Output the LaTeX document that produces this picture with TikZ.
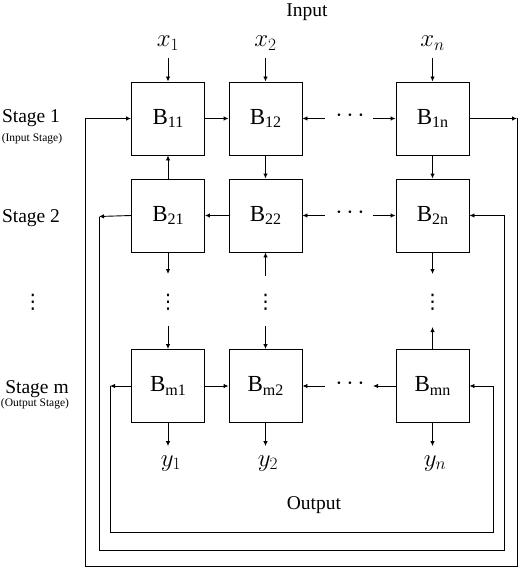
\documentclass[tikz,border=0pt]{standalone}
\usepackage{fontspec}
\setmainfont{Liberation Serif}
\newfontfamily\dvs{DejaVu Sans}
\usetikzlibrary{arrows.meta}
\newcommand{\Bsub}[1]{B\raisebox{-3.5pt}{\fontsize{16}{16}\selectfont #1}}
\begin{document}
\begin{tikzpicture}[x=1pt,y=-1pt,
  box/.style={draw,line width=0.9pt,minimum width=73pt,minimum height=73pt,inner sep=0pt,font=\fontsize{23}{26}\selectfont},
  conn/.style={line width=0.9pt},
  arr/.style={conn,-{Latex[length=5pt,width=4.5pt]}},
  lbl/.style={font=\fontsize{19.5}{22}\selectfont,inner sep=0pt,anchor=base},
  small/.style={font=\fontsize{11.5}{13}\selectfont,inner sep=0pt,anchor=base},
  xlab/.style={font=\fontsize{24}{26}\selectfont,inner xsep=0pt,inner ysep=7pt,anchor=base},
  ylab/.style={font=\fontsize{24}{26}\selectfont,inner xsep=0pt,inner ysep=9pt,anchor=base},
  hdots/.style={font=\fontsize{22}{24}\selectfont,inner sep=0pt},
  vdots/.style={font=\dvs\fontsize{20}{22}\selectfont,inner sep=0pt}]
\useasboundingbox (0,0) rectangle (521,567);

% labels
\node[lbl] (input) at (307,17) {Input};
\node[lbl] (output) at (314,509) {Output};
\node[lbl] (s1) at (31,122) {Stage 1};
\node[small] (s1b) at (32,141) {(Input Stage)};
\node[lbl] (s2) at (31,222) {Stage 2};
\node[vdots] (vdl) at (33,302) {⋮};
\node[lbl] (sm) at (37,393) {Stage m};
\node[small] (smb) at (35,406) {(Output Stage)};

% boxes
\node[box] (B11) at (168,118.5) {\Bsub{11}};
\node[box] (B12) at (265.5,118.5) {\Bsub{12}};
\node[box] (B1n) at (432.5,118.5) {\Bsub{1n}};
\node[box] (B21) at (168,215.5) {\Bsub{21}};
\node[box] (B22) at (265.5,215.5) {\Bsub{22}};
\node[box] (B2n) at (432.5,215.5) {\Bsub{2n}};
\node[box] (Bm1) at (168,386) {\Bsub{m1}};
\node[box] (Bm2) at (265.5,386) {\Bsub{m2}};
\node[box] (Bmn) at (432.5,386) {\Bsub{mn}};

% inputs / outputs
\node[xlab] (x1) at (168,47) {$x_1$};
\node[xlab] (x2) at (265.5,47) {$x_2$};
\node[xlab] (xn) at (432.5,47) {$x_n$};
\node[ylab] (y1) at (171,466) {$y_1$};
\node[ylab] (y2) at (268,466) {$y_2$};
\node[ylab] (yn) at (435,466) {$y_n$};
\draw[arr] (x1.south -| B11.north) -- (B11);
\draw[arr] (x2.south -| B12.north) -- (B12);
\draw[arr] (xn.south -| B1n.north) -- (B1n);
\draw[arr] (Bm1.south) -- (Bm1.south |- y1.north);
\draw[arr] (Bm2.south) -- (Bm2.south |- y2.north);
\draw[arr] (Bmn.south) -- (Bmn.south |- yn.north);

% horizontal dots
\node[hdots] (h1) at (350,118.5) {·\,·\,·};
\node[hdots] (h2) at (350,215.5) {·\,·\,·};
\node[hdots] (hm) at (350,386) {·\,·\,·};
\coordinate (h1l) at (325,118.5); \coordinate (h1r) at (373,118.5);
\coordinate (h2l) at (325,215.5); \coordinate (h2r) at (373,215.5);
\coordinate (hml) at (325,386);   \coordinate (hmr) at (373,386);

% row 1
\draw[arr] (B11) -- (B12);
\draw[arr] (h1l) -- (B12);
\draw[arr] (h1r) -- (B1n);
% row 2
\draw[arr] (B22) -- (B21);
\draw[arr] (h2l) -- (B22);
\draw[arr] (h2r) -- (B2n);
% row m
\draw[arr] (Bm1) -- (Bm2);
\draw[arr] (hml) -- (Bm2);
\draw[arr] (Bmn.west) -- (hmr);

% vertical between row 1 and 2
\draw[arr] (B21) -- (B11);
\draw[arr] (B12) -- (B22);
\draw[arr] (B1n) -- (B2n);

% vertical dots columns
\node[vdots] (v1) at (168,302) {⋮};
\node[vdots] (v2) at (265.5,302) {⋮};
\node[vdots] (vn) at (432.5,302) {⋮};
\coordinate (v1a) at (168,274); \coordinate (v1b) at (168,326);
\coordinate (v2a) at (265.5,276); \coordinate (v2b) at (265.5,326);
\coordinate (vna) at (432.5,274); \coordinate (vnb) at (432.5,327);
\draw[arr] (B21) -- (v1a);
\draw[arr] (v1b) -- (Bm1);
\draw[arr] (v2a) -- (B22);
\draw[arr] (v2b) -- (Bm2);
\draw[arr] (B2n) -- (vna);
\draw[arr] (Bmn) -- (vnb);

% feedback loops
\coordinate (c1) at (517,118.5); \coordinate (k1) at (85,566);
\draw[arr] (B1n) -- (c1);
\draw[arr] (c1) |- (k1) |- (B11);

\coordinate (c2) at (99,216.5); \coordinate (k2) at (504,550);
\draw[arr] (B21.west) -- (c2);
\draw[arr] (c2) |- (k2) |- (B2n);

\coordinate (c3) at (110,386); \coordinate (k3) at (493,532);
\draw[arr] (Bm1) -- (c3);
\draw[arr] (c3) |- (k3) |- (Bmn);
\end{tikzpicture}
\end{document}
